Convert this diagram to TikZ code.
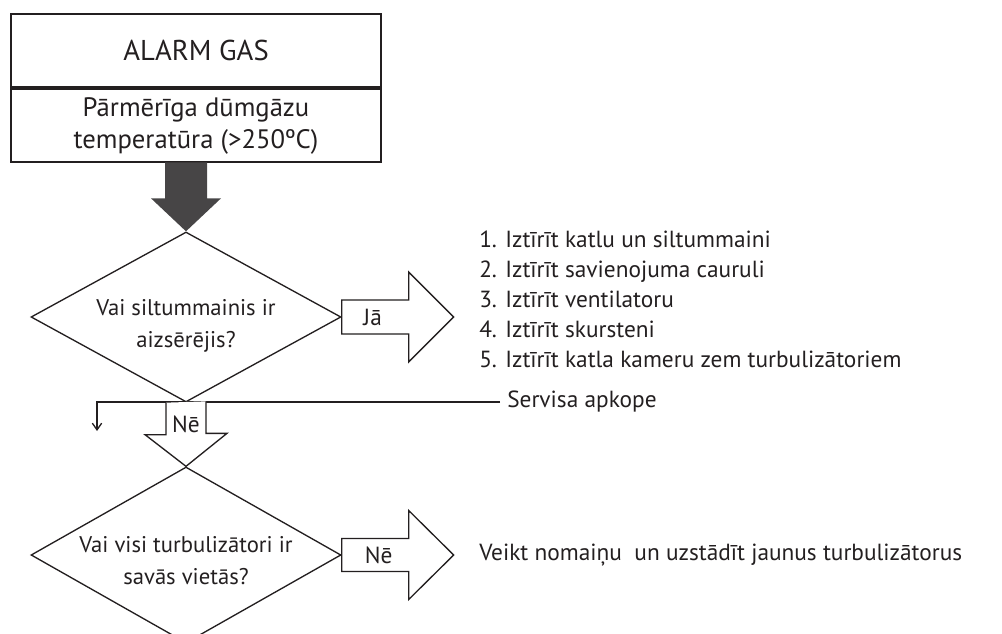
\documentclass[tikz,border=0pt]{standalone}
\usepackage{fontspec}
\setmainfont{PT Sans}
\usetikzlibrary{shapes.geometric,arrows.meta,calc}
\definecolor{ink}{HTML}{231F20}
\definecolor{bigarrow}{HTML}{474546}
\begin{document}
\begin{tikzpicture}[x=0.75pt,y=-0.75pt,
  every node/.style={text=ink},
  hdrbox/.style={draw=ink,line width=1.5pt,minimum width=277.5pt,minimum height=54.75pt,
                 inner sep=0pt,align=center,font=\fontsize{20}{24}\selectfont},
  decision/.style={shape=diamond,draw=ink,line width=1pt,inner sep=0pt,minimum width=232.5pt},
  qtext/.style={align=center,inner sep=0pt,font=\fontsize{17}{24}\selectfont},
  body/.style={inner sep=0pt,font=\fontsize{17.5}{22.5}\selectfont},
  blockarr/.style={draw=ink,line width=1pt,fill=white,line join=miter},
  connector/.style={draw=ink,line width=1pt}
]
\clip (0,0) rectangle (1002,634);

% alarm header and its condition
\node[hdrbox,anchor=north west] (alarm) at (10,13) {\fontsize{21.5}{24}\selectfont ALARM GAS};
\node[hdrbox,anchor=north] (cond) at (alarm.south) {Pārmērīga dūmgāzu\\temperatūra (>250ºC)};

% decisions
\node[decision,minimum height=127.5pt] (d1) at (186,317) {};
\node[qtext] (q1) at (186,326) {Vai siltummainis ir\\aizsērējis?};
\node[decision,minimum height=132pt] (d2) at (186,555) {};
\node[qtext] (q2) at (186,561) {Vai visi turbulizātori ir\\savās vietās?};

% heavy arrow from the header into the first decision
\fill[bigarrow] (d1.north) -- ++(-35,-33) -- ++(14,0) -- ++(0,-36) -- ++(42,0)
  -- ++(0,36) -- ++(14,0) -- cycle;

% "yes" branch of the first decision
\draw[blockarr] (d1.east) ++(0,-17) -- ++(67,0) -- ++(0,-28) -- ++(45,45)
  -- ++(-45,45) -- ++(0,-28) -- ++(-67,0) -- cycle;
\node[body] (ja) at ($(d1.east)+(31,0)$) {Jā};

\node[body,anchor=north west,align=left] (todo) at (479,231)
  {1. Iztīrīt katlu un siltummaini\\
   2. Iztīrīt savienojuma cauruli\\
   3. Iztīrīt ventilatoru\\
   4. Iztīrīt skursteni\\
   5. Iztīrīt katla kameru zem turbulizātoriem};

% service line with the small drop arrow
\node[body,anchor=west,inner xsep=5.25pt] (svc) at (500,402) {Servisa apkope};
\coordinate (drop) at (97,431);
\draw[connector,-{Straight Barb[length=5pt,width=7pt]}] (svc.west) -| (drop);

% "no" branch down to the second decision
\draw[blockarr] (d1.south) ++(-20,0) -- ++(0,32) -- ++(-21,0) -- (d2.north)
  -- ++(41,-33) -- ++(-21,0) -- ++(0,-32);
\node[body] (ne1) at ($(d1.south)+(0,22)$) {Nē};

% "no" branch of the second decision
\draw[blockarr] (d2.east) ++(0,-16.5) -- ++(67,0) -- ++(0,-28) -- ++(45,44.5)
  -- ++(-45,44.5) -- ++(0,-28) -- ++(-67,0) -- cycle;
\node[body] (ne2) at ($(d2.east)+(37,0)$) {Nē};

\node[body,anchor=west] (act) at (479,555) {Veikt nomaiņu\ \ un uzstādīt jaunus turbulizātorus};
\end{tikzpicture}
\end{document}
